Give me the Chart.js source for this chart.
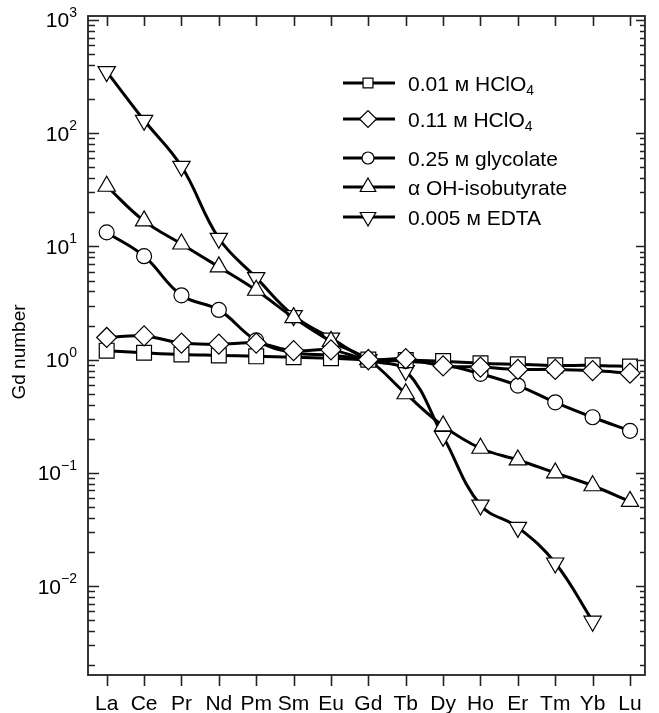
<!DOCTYPE html>
<html>
<head>
<meta charset="utf-8">
<script src="https://cdn.jsdelivr.net/npm/chart.js@4.4.0/dist/chart.umd.min.js"></script>
<style>
  html, body { margin: 0; padding: 0; background: #fff; }
  #wrap { width: 659px; height: 713px; }
</style>
</head>
<body>
<div id="wrap"><canvas id="chart-area" width="659" height="713"></canvas></div>
<script>
var elements = ['La', 'Ce', 'Pr', 'Nd', 'Pm', 'Sm', 'Eu', 'Gd', 'Tb', 'Dy', 'Ho', 'Er', 'Tm', 'Yb', 'Lu'];

var hclo4Low  = [1.2, 1.15, 1.11, 1.09, 1.07, 1.05, 1.03, 1.0, 0.99, 0.97, 0.93, 0.91, 0.89, 0.89, 0.87];
var hclo4High = [1.57, 1.62, 1.4, 1.37, 1.4, 1.2, 1.22, 1.0, 1.02, 0.88, 0.86, 0.82, 0.82, 0.8, 0.76];
var glycolate = [13.3, 8.2, 3.7, 2.75, 1.48, 1.15, 1.1, 1.0, 0.97, 0.9, 0.75, 0.59, 0.42, 0.31, 0.235];
var hiba      = [34, 16.8, 10.5, 6.6, 4.1, 2.35, 1.45, 1.0, 0.5, 0.26, 0.165, 0.13, 0.1, 0.077, 0.056];
var edta      = [350, 130, 51, 11.8, 5.3, 2.45, 1.55, 1.0, 0.8, 0.21, 0.052, 0.033, 0.016, 0.0049, null];

var seriesLabels = ['0.01 м HClO₄', '0.11 м HClO₄', '0.25 м glycolate', 'α OH-isobutyrate', '0.005 м EDTA'];
var yDecades = [-3, -2, -1, 0, 1, 2, 3];

var FONT = '"Liberation Sans", Arial, Helvetica, sans-serif';

function toPoints(values) {
  var pts = [];
  for (var i = 0; i < values.length; i++) {
    if (values[i] != null) pts.push({x: i, y: values[i]});
  }
  return pts;
}

function makeSet(label, values, style, radius, rotation, order) {
  return {
    label: label,
    data: toPoints(values),
    borderColor: '#000',
    borderWidth: 3,
    tension: 0.4,
    pointStyle: style,
    pointRadius: radius,
    pointRotation: rotation,
    pointBackgroundColor: '#fff',
    pointBorderColor: '#000',
    pointBorderWidth: 1.2,
    order: order
  };
}

// legend marker, same shapes as the chart ones
function drawMarker(ctx, style, rot, x, y, r) {
  ctx.beginPath();
  if (style === 'rect') {
    var s = r * Math.SQRT1_2;
    ctx.rect(x - s, y - s, 2 * s, 2 * s);
  } else if (style === 'rectRot') {
    ctx.moveTo(x - r, y); ctx.lineTo(x, y - r); ctx.lineTo(x + r, y); ctx.lineTo(x, y + r); ctx.closePath();
  } else if (style === 'circle') {
    ctx.arc(x, y, r, 0, Math.PI * 2);
  } else {
    var a = rot * Math.PI / 180;
    for (var k = 0; k < 3; k++) {
      var px = x + Math.sin(a) * r, py = y - Math.cos(a) * r;
      if (k === 0) ctx.moveTo(px, py); else ctx.lineTo(px, py);
      a += Math.PI * 2 / 3;
    }
    ctx.closePath();
  }
  ctx.fillStyle = '#fff';
  ctx.fill();
  ctx.lineWidth = 1.2;
  ctx.strokeStyle = '#000';
  ctx.stroke();
}

var legendRows = [83, 119, 158, 187, 217];
var legendRadius = [7, 8.5, 6, 9, 9];

var frameTicks = {
  id: 'frameTicks',
  afterDraw: function(chart) {
    var ctx = chart.ctx, a = chart.chartArea, xs = chart.scales.x, ys = chart.scales.y;
    ctx.save();
    ctx.strokeStyle = '#222';
    ctx.lineWidth = 1.8;
    ctx.strokeRect(a.left, a.top, a.right - a.left, a.bottom - a.top);

    ctx.beginPath();
    ctx.lineWidth = 1.6;
    for (var i = 0; i < elements.length; i++) {
      var px = Math.round(xs.getPixelForValue(i)) + 0.5;
      ctx.moveTo(px, a.bottom); ctx.lineTo(px, a.bottom + 11);
      ctx.moveTo(px, a.top); ctx.lineTo(px, a.top + 10);
    }
    yDecades.forEach(function(d) {
      for (var m = 1; m < 10; m++) {
        var v = m * Math.pow(10, d);
        if (v < ys.min || v > ys.max) continue;
        var py = Math.round(ys.getPixelForValue(v)) + 0.5;
        var lenL = m === 1 ? 11 : 7, lenR = m === 1 ? 9 : 5;
        ctx.moveTo(a.left, py); ctx.lineTo(a.left + lenL, py);
        ctx.moveTo(a.right, py); ctx.lineTo(a.right - lenR, py);
      }
    });
    ctx.stroke();

    // y tick labels 10^n
    ctx.fillStyle = '#000';
    ctx.textBaseline = 'alphabetic';
    ctx.textAlign = 'right';
    yDecades.forEach(function(d) {
      var v = Math.pow(10, d);
      if (v < ys.min || v > ys.max) return;
      var py = ys.getPixelForValue(v);
      var exp = d < 0 ? '\u2212' + Math.abs(d) : String(d);
      ctx.font = '14px ' + FONT;
      var ew = ctx.measureText(exp).width;
      ctx.fillText(exp, 77, py - 3);
      ctx.font = '21px ' + FONT;
      ctx.fillText('10', 77 - ew, py + 7.5);
    });

    // y title
    ctx.save();
    ctx.translate(20, 352);
    ctx.rotate(-Math.PI / 2);
    ctx.textAlign = 'center';
    ctx.textBaseline = 'middle';
    ctx.font = '19px ' + FONT;
    ctx.fillText('Gd number', 0, 0);
    ctx.restore();

    // legend
    chart.data.datasets.forEach(function(ds, k) {
      var y = legendRows[k];
      ctx.strokeStyle = '#000';
      ctx.lineWidth = 3;
      ctx.beginPath();
      ctx.moveTo(343, y); ctx.lineTo(395, y);
      ctx.stroke();
      drawMarker(ctx, ds.pointStyle, ds.pointRotation || 0, 368, y, legendRadius[k]);
      var label = ds.label, sub = '';
      if (label.charAt(label.length - 1) === '₄') { sub = '4'; label = label.slice(0, -1); }
      ctx.fillStyle = '#000';
      ctx.textAlign = 'left';
      ctx.textBaseline = 'alphabetic';
      ctx.font = '21px ' + FONT;
      ctx.fillText(label, 408, y + 7.5);
      if (sub) {
        var w = ctx.measureText(label).width;
        ctx.font = '14px ' + FONT;
        ctx.fillText(sub, 408 + w, y + 12);
      }
    });
    ctx.restore();
  }
};

var config = {
  type: 'line',
  data: {
    datasets: [
      makeSet(seriesLabels[0], hclo4Low, 'rect', 10.5, 0, 1),
      makeSet(seriesLabels[1], hclo4High, 'rectRot', 10, 0, 0),
      makeSet(seriesLabels[2], glycolate, 'circle', 7.5, 0, 2),
      makeSet(seriesLabels[3], hiba, 'triangle', 10, 0, 3),
      makeSet(seriesLabels[4], edta, 'triangle', 10, 180, 4)
    ]
  },
  options: {
    responsive: false,
    animation: false,
    layout: { padding: { top: 16, right: 1, left: 0, bottom: 0 } },
    plugins: { legend: { display: false }, tooltip: { enabled: false } },
    scales: {
      x: {
        type: 'linear',
        min: -0.5,
        max: 14.4,
        grid: { display: false, drawTicks: false },
        border: { display: false },
        afterBuildTicks: function(s) {
          s.ticks = elements.map(function(e, i) { return { value: i }; });
        },
        ticks: {
          callback: function(v) { return elements[v]; },
          autoSkip: false,
          maxRotation: 0,
          padding: 17,
          color: '#000',
          font: { size: 21, family: FONT }
        },
        afterFit: function(s) { s.height = 38; }
      },
      y: {
        type: 'logarithmic',
        min: 0.00164,
        max: 1084,
        grid: { display: false, drawTicks: false },
        border: { display: false },
        ticks: { display: false },
        afterFit: function(s) { s.width = 88; }
      }
    }
  },
  plugins: [frameTicks]
};

var ctx = document.getElementById('chart-area').getContext('2d');
window.myLine = new Chart(ctx, config);
</script>
</body>
</html>
